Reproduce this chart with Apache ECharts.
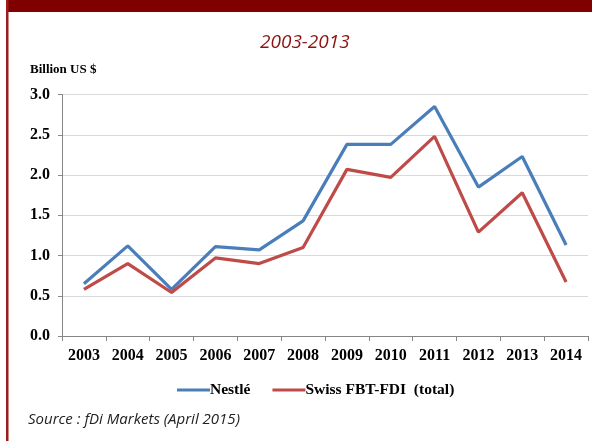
<!DOCTYPE html>
<html><head><meta charset="utf-8">
<script src="https://cdn.jsdelivr.net/npm/echarts@6/dist/echarts.min.js"></script>
<style>html,body{margin:0;padding:0;background:#fff}#c{width:592px;height:441px}</style>
</head><body><div id="c"></div>
<script>
const years = ['2003','2004','2005','2006','2007','2008','2009','2010','2011','2012','2013','2014'];
const nestle = [0.65,1.12,0.58,1.11,1.07,1.43,2.38,2.38,2.85,1.85,2.23,1.13];
const swissFB = [0.58,0.90,0.54,0.97,0.90,1.10,2.07,1.97,2.48,1.29,1.78,0.67];
const seriesNames = ['Nestlé','Swiss FBT-FDI  (total)'];
const titleText = '2003-2013';
const unitText = 'Billion US $';
const sourceText = 'Source : fDi Markets (April 2015)';

const chart = echarts.init(document.getElementById('c'));
const serif = '"Liberation Serif", "Times New Roman", serif';
chart.setOption({
  animation:false,
  graphic:[
    {type:'rect', shape:{x:6,y:0,width:586,height:12}, style:{fill:'#800000'}},
    {type:'rect', shape:{x:6,y:0,width:2.5,height:441}, style:{fill:'#9b1c1c'}},
    {type:'text', left:260, top:33, style:{text:titleText, font:'italic 19px "Open Sans", sans-serif', fill:'#8b1414'}},
    {type:'text', left:30, top:63, style:{text:unitText, font:'bold 13px '+serif, fill:'#000'}},
    {type:'text', left:28, top:412, style:{text:sourceText, font:'italic 15px "Open Sans", sans-serif', fill:'#222'}}
  ],
  legend:{
    top:377, left:172, itemWidth:33, itemHeight:3, itemGap:22, icon:'rect',
    textStyle:{fontFamily:serif, fontWeight:'bold', fontSize:15.5, color:'#000', padding:[0,0,0,-5]},
    data:seriesNames
  },
  grid:{left:62, right:4, top:94.5, bottom:105},
  xAxis:{
    type:'category', data:years, boundaryGap:true,
    axisLine:{lineStyle:{color:'#868686', width:1}},
    axisTick:{show:true, alignWithLabel:false, length:5, lineStyle:{color:'#868686'}},
    axisLabel:{margin:12, fontFamily:serif, fontWeight:'bold', fontSize:16, color:'#000'}
  },
  yAxis:{
    type:'value', min:0, max:3, interval:0.5,
    axisLine:{show:true, lineStyle:{color:'#868686'}},
    axisTick:{show:true, length:4, lineStyle:{color:'#868686'}},
    splitLine:{lineStyle:{color:'#d9d9d9'}},
    axisLabel:{margin:12, fontFamily:serif, fontWeight:'bold', fontSize:16, color:'#000', formatter:v=>v.toFixed(1)}
  },
  series:[
    {name:seriesNames[0], type:'line', data:nestle, symbol:'none', lineStyle:{color:'#4a7ebb', width:3.2}, itemStyle:{color:'#4a7ebb'}},
    {name:seriesNames[1], type:'line', data:swissFB, symbol:'none', lineStyle:{color:'#be4b48', width:3.2}, itemStyle:{color:'#be4b48'}}
  ]
});
</script></body></html>
